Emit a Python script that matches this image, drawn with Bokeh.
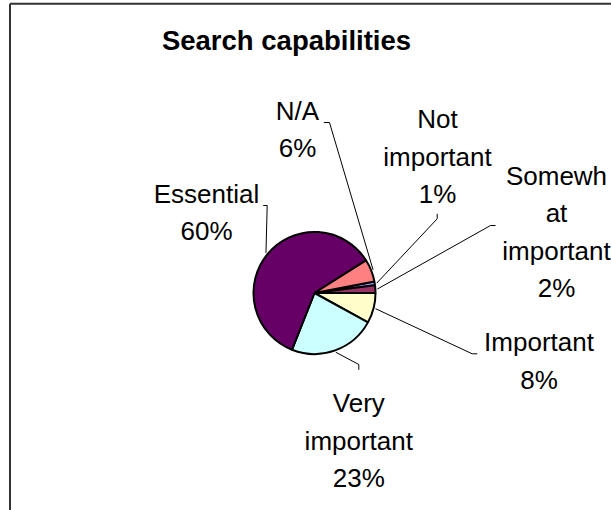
import math
from bokeh.plotting import figure
from bokeh.models import Range1d
from bokeh.core.properties import value
from bokeh.embed import file_html
from bokeh.resources import INLINE

# ---- data ----
categories = ["Not important", "Somewhat important", "Important", "Very important", "Essential", "N/A"]
percents = [1, 2, 8, 23, 60, 6]
label_text = ["Not\nimportant", "Somewh\nat\nimportant", "Important", "Very\nimportant", "Essential", "N/A"]
colors = ["#9999FF", "#993366", "#FFFFCC", "#CCFFFF", "#660066", "#FF8080"]
title_text = "Search capabilities"

# ---- layout (screen pixels, y downwards) ----
W, H = 611, 510
CX, CY, R = 314, 292.5, 61
START_DEG = 10.8  # angle (math convention) where first slice starts, slices go clockwise
LINE_PITCH = 37.5
# label block: centre x, baseline of first line
label_pos = [(437, 118.5), (556, 175), (538.5, 341.5), (358.3, 402.7), (206, 193), (297, 110)]
# leader line: elbow point and end point
leader_elbow = [(436.7, 218.3), (490, 225), (471.7, 353.3), (358.3, 364), (266.7, 205), (329, 122)]
leader_end = [(436.7, 213.3), (495, 225), (476.7, 353.3), (358.3, 369.3), (262.7, 205), (323.3, 122)]


def sy(y):
    return H - y


p = figure(width=W, height=H, output_backend="svg", toolbar_location=None,
           x_range=Range1d(0, W), y_range=Range1d(0, H), min_border=0)
p.axis.visible = False
p.grid.visible = False
p.outline_line_color = None
p.background_fill_color = "white"
p.border_fill_color = "white"

# chart-area frame (left and top edges visible in window)
p.segment(x0=[9.5, 9.5], y0=[sy(3.3), sy(3.3)], x1=[9.5, W + 5], y1=[sy(H + 5), sy(3.3)],
          line_color="#333333", line_width=2)

# wedges
total = float(sum(percents))
starts, ends, mids = [], [], []
cum = 0.0
for v in percents:
    a0 = START_DEG - cum / total * 360.0
    a1 = a0 - v / total * 360.0
    starts.append(math.radians(a1))
    ends.append(math.radians(a0))
    mids.append(math.radians((a0 + a1) / 2))
    cum += v

p.wedge(x=[CX] * len(percents), y=[sy(CY)] * len(percents), radius=R, radius_units="screen",
        start_angle=starts, end_angle=ends, fill_color=colors, line_color="black", line_width=2)

# leader lines
xs, ys = [], []
for i, m in enumerate(mids):
    ex = CX + (R + 2) * math.cos(m)
    ey = sy(CY) + (R + 2) * math.sin(m)
    xs.append([ex, leader_elbow[i][0], leader_end[i][0]])
    ys.append([ey, sy(leader_elbow[i][1]), sy(leader_end[i][1])])
p.multi_line(xs=xs, ys=ys, line_color="black", line_width=1)

# labels
tx, ty, tt = [], [], []
for i, (lbl, v) in enumerate(zip(label_text, percents)):
    lines = lbl.split("\n") + [f"{v}%"]
    x0, y0 = label_pos[i]
    for k, ln in enumerate(lines):
        tx.append(x0)
        ty.append(sy(y0 + k * LINE_PITCH))
        tt.append(ln)
p.text(x=tx, y=ty, text=tt, text_align="center", text_baseline="alphabetic",
       text_font=value("Liberation Sans"), text_font_size="26px", text_color="black")

# title
p.text(x=[286], y=[sy(40)], text=[title_text], text_align="center", text_baseline="alphabetic",
       text_font=value("Liberation Sans"), text_font_size="27.5px", text_font_style="bold",
       text_color="black")

open("out.html", "w").write(file_html(p, INLINE))
